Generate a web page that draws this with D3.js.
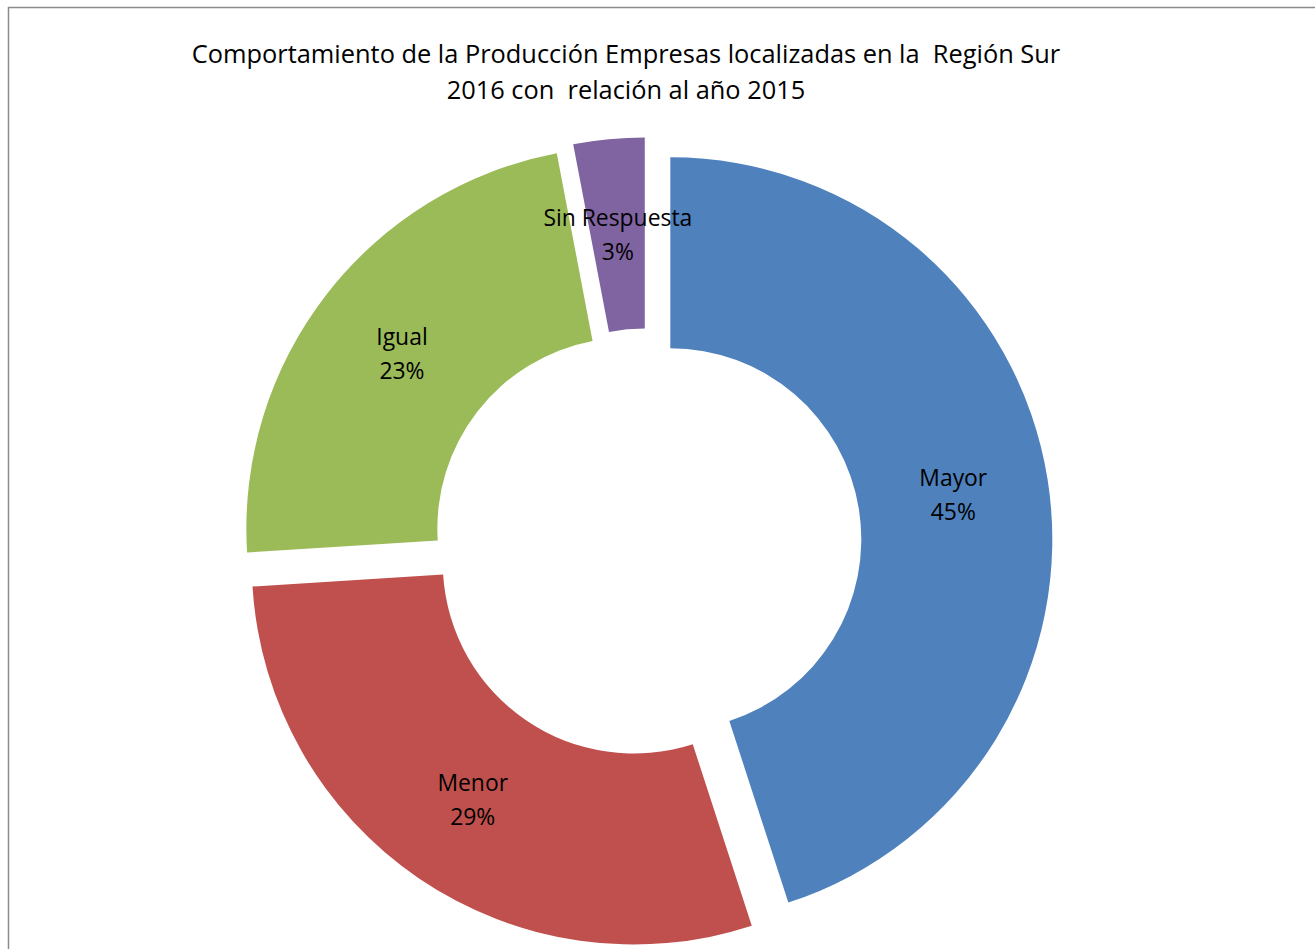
<!DOCTYPE html>
<html><head><meta charset="utf-8">
<script src="https://cdn.jsdelivr.net/npm/d3@7"></script>
<style>html,body{margin:0;padding:0;background:#fff;} svg{display:block;}</style>
</head><body>
<svg id="c" width="1315" height="949"></svg>
<script>
const categories = ["Mayor", "Menor", "Igual", "Sin Respuesta"];
const values = [45, 29, 23, 3];
const labels = ["45%", "29%", "23%", "3%"];
const colors = ["#4F81BD", "#C0504D", "#9BBB59", "#8064A2"];
const titleLines = ["Comportamiento de la Producción Empresas localizadas en la  Región Sur", "2016 con  relación al año 2015"];

const svg = d3.select("#c");
const font = "'Open Sans', sans-serif";

svg.append("rect").attr("x", 8.5).attr("y", 7.5).attr("width", 1400).attr("height", 1000)
  .attr("fill", "none").attr("stroke", "#8c8c8c").attr("stroke-width", 1.5);

const title = svg.append("text").attr("font-family", font).attr("font-size", 20).attr("fill", "#000")
  .attr("text-anchor", "middle").style("white-space", "pre");
title.selectAll("tspan").data(titleLines).join("tspan")
  .attr("x", 626).attr("y", (d, i) => 63 + i * 36).text(d => d);
// fit title width to reference (~869px for line 1)
const t1 = title.select("tspan").node().getComputedTextLength();
title.attr("font-size", 20 * 869 / t1);

const cx = 647, cy = 543, R = 382, r0 = 191, explode = 23.6;
const pie = d3.pie().sort(null).value(d => d.v);
const data = pie(categories.map((c, i) => ({c, v: values[i], l: labels[i], col: colors[i]})));
const arc = d3.arc().innerRadius(r0).outerRadius(R);
const labelArc = d3.arc().innerRadius((R + r0) / 2 + explode).outerRadius((R + r0) / 2 + explode);

const g = svg.append("g").attr("transform", `translate(${cx},${cy})`);
g.selectAll("path").data(data).join("path")
  .attr("d", arc)
  .attr("fill", d => d.data.col)
  .attr("transform", d => {
    const m = (d.startAngle + d.endAngle) / 2;
    return `translate(${Math.sin(m) * explode},${-Math.cos(m) * explode})`;
  });

const lg = g.selectAll("text.lab").data(data).join("text").attr("class", "lab")
  .attr("font-family", font).attr("font-size", 20).attr("fill", "#000").attr("text-anchor", "middle")
  .attr("transform", d => `translate(${labelArc.centroid(d)})`);
lg.append("tspan").attr("x", 0).attr("y", -8).text(d => d.data.c);
lg.append("tspan").attr("x", 0).attr("y", 26).text(d => d.data.l);
// fit label size: "Sin Respuesta" ~149px in reference
const sr = lg.filter(d => d.data.c === "Sin Respuesta").select("tspan").node().getComputedTextLength();
lg.attr("font-size", 20 * 149 / sr);
</script>
</body></html>
